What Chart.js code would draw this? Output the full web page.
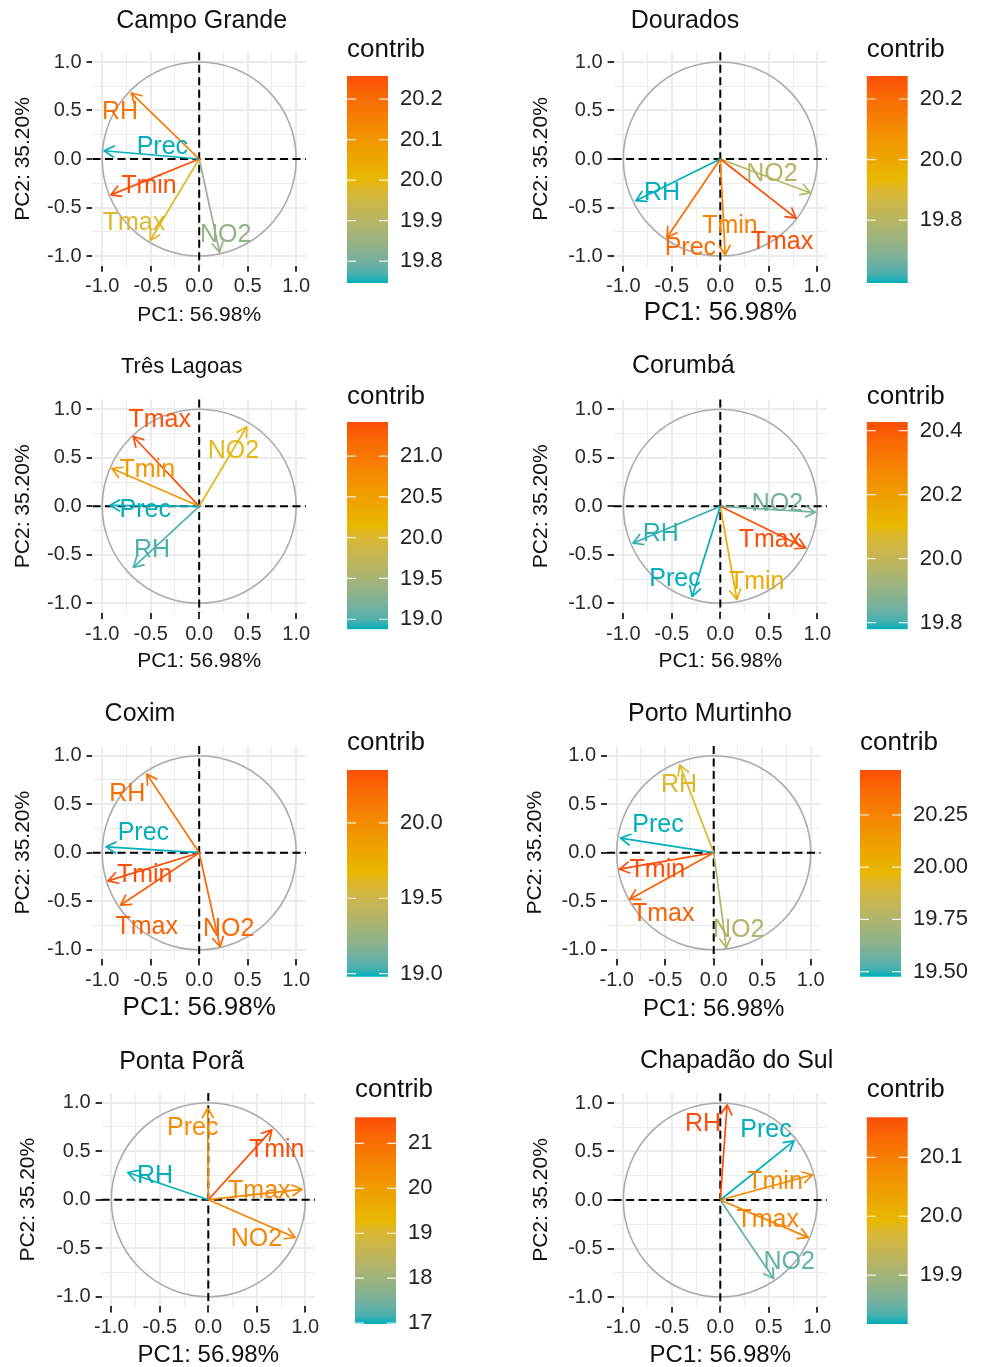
<!DOCTYPE html>
<html>
<head>
<meta charset="utf-8">
<script src="https://cdn.jsdelivr.net/npm/chart.js@4.4.1/dist/chart.umd.min.js"></script>
<style>
  html, body { margin: 0; padding: 0; background: #fff; overflow: hidden; }
  #page { position: relative; width: 981px; height: 1367px; }
  canvas { position: absolute; }
</style>
</head>
<body>
<div id="page"></div>
<script>
// ---------------------------------------------------------------- data
const VARS = ["RH", "Prec", "Tmin", "Tmax", "NO2"];

// Campo Grande
const cgPC1 = [-0.70, -0.98, -0.91, -0.505, 0.21];
const cgPC2 = [0.68, 0.085, -0.37, -0.84, -0.96];
const cgContrib = [20.18, 19.746, 20.257, 19.98, 19.84];
const cgLegend = [19.8, 19.9, 20.0, 20.1, 20.2];

// Dourados
const doPC1 = [-0.87, -0.55, 0.05, 0.78, 0.93];
const doPC2 = [-0.43, -0.81, -0.99, -0.61, -0.35];
const doContrib = [19.592, 20.2, 20.13, 20.276, 19.80];
const doLegend = [19.8, 20.0, 20.2];

// Três Lagoas
const tlPC1 = [-0.68, -0.92, -0.90, -0.68, 0.49];
const tlPC2 = [-0.63, 0.01, 0.39, 0.72, 0.82];
const tlContrib = [19.0, 18.877, 20.6, 21.417, 20.1];
const tlLegend = [19.0, 19.5, 20.0, 20.5, 21.0];

// Corumbá
const coPC1 = [-0.90, -0.29, 0.17, 0.88, 0.98];
const coPC2 = [-0.38, -0.93, -0.96, -0.43, -0.06];
const coContrib = [19.79, 19.779, 20.15, 20.427, 19.85];
const coLegend = [19.8, 20.0, 20.2, 20.4];

// Coxim
const cxPC1 = [-0.54, -0.96, -0.94, -0.81, 0.215];
const cxPC2 = [0.81, 0.06, -0.29, -0.54, -0.97];
const cxContrib = [20.18, 18.98, 20.35, 20.27, 20.22];
const cxLegend = [19.0, 19.5, 20.0];

// Porto Murtinho
const pmPC1 = [-0.35, -0.96, -0.97, -0.865, 0.13];
const pmPC2 = [0.905, 0.15, -0.17, -0.48, -0.98];
const pmContrib = [19.93, 19.476, 20.465, 20.4, 19.76];
const pmLegend = [19.50, 19.75, 20.00, 20.25];

// Ponta Porã
const ppPC1 = [-0.83, -0.006, 0.655, 0.965, 0.895];
const ppPC2 = [0.28, 0.944, 0.72, 0.107, -0.39];
const ppContrib = [16.98, 20.4, 21.58, 20.5, 20.54];
const ppLegend = [17, 18, 19, 20, 21];

// Chapadão do Sul
const csPC1 = [0.07, 0.76, 0.95, 0.905, 0.55];
const csPC2 = [0.98, 0.61, 0.26, -0.385, -0.81];
const csContrib = [20.168, 19.817, 20.08, 20.09, 19.845];
const csLegend = [19.9, 20.0, 20.1];

// ---------------------------------------------------------------- layout
const FONT = '"Liberation Sans", Arial, Helvetica, sans-serif';
Chart.defaults.font.family = FONT;

const UNIT = 97;          // px por 1.0 nos dois eixos
const LIM = 1.1;
const AXIS_TICKS = [-1, -0.75, -0.5, -0.25, 0, 0.25, 0.5, 0.75, 1];
const HEAD = 11;          // tamanho da ponta da seta
const GRAD_HEX = ["#00AFBB", "#E7B800", "#FC4E07"];

const PANELS = [
  { name: "Campo Grande", pc1: cgPC1, pc2: cgPC2, contrib: cgContrib, legend: cgLegend, dec: 1,
    col: 0, top: 0, cx: 199.2, cy: 159, title: [201.7, 21.5, 25], xTitle: [315, 21], yTitleX: 23.3,
    bar: [347, 76, 207], contribY: 50.3,
    labelAt: [[-0.816, 0.488], [-0.380, 0.127], [-0.518, -0.275], [-0.672, -0.663], [0.273, -0.784]] },
  { name: "Dourados", pc1: doPC1, pc2: doPC2, contrib: doContrib, legend: doLegend, dec: 1,
    col: 490, top: 0, cx: 720.3, cy: 159, title: [685, 21.5, 25], xTitle: [313, 26], yTitleX: 541.7,
    bar: [866.7, 76, 207], contribY: 50.3,
    labelAt: [[-0.601, -0.354], [-0.309, -0.921], [0.100, -0.687], [0.636, -0.859], [0.533, -0.155]] },
  { name: "Três Lagoas", pc1: tlPC1, pc2: tlPC2, contrib: tlContrib, legend: tlLegend, dec: 1,
    col: 0, top: 340, cx: 199.2, cy: 506.3, title: [181.7, 367.4, 22], xTitle: [661.7, 21], yTitleX: 23.3,
    bar: [347, 422, 207.3], contribY: 396.5,
    labelAt: [[-0.487, -0.450], [-0.556, -0.038], [-0.535, 0.374], [-0.407, 0.893], [0.352, 0.573]] },
  { name: "Corumbá", pc1: coPC1, pc2: coPC2, contrib: coContrib, legend: coLegend, dec: 1,
    col: 490, top: 340, cx: 720.3, cy: 506.3, title: [683.3, 366.5, 25], xTitle: [661.7, 21], yTitleX: 541.7,
    bar: [866.7, 422, 207.3], contribY: 396.5,
    labelAt: [[-0.614, -0.289], [-0.467, -0.746], [0.375, -0.784], [0.512, -0.347], [0.588, 0.027]] },
  { name: "Coxim", pc1: cxPC1, pc2: cxPC2, contrib: cxContrib, legend: cxLegend, dec: 1,
    col: 0, top: 690, cx: 199.2, cy: 852.7, title: [140, 714.6, 25], xTitle: [1008.3, 26], yTitleX: 23.3,
    bar: [347, 770, 206.7], contribY: 742.8,
    labelAt: [[-0.741, 0.608], [-0.576, 0.200], [-0.562, -0.230], [-0.541, -0.763], [0.304, -0.790]] },
  { name: "Porto Murtinho", pc1: pmPC1, pc2: pmPC2, contrib: pmContrib, legend: pmLegend, dec: 2,
    col: 490, top: 690, cx: 713.7, cy: 852.7, title: [710, 714, 25], xTitle: [1009.3, 24], yTitleX: 535,
    bar: [860, 770, 206.7], contribY: 742.8,
    labelAt: [[-0.358, 0.695], [-0.574, 0.286], [-0.581, -0.175], [-0.520, -0.632], [0.258, -0.794]] },
  { name: "Ponta Porã", pc1: ppPC1, pc2: ppPC2, contrib: ppContrib, legend: ppLegend, dec: 0,
    col: 0, top: 1030, cx: 208.3, cy: 1199.7, title: [181.7, 1062, 25], xTitle: [1355, 24], yTitleX: 28.3,
    bar: [355, 1117.3, 206.7], contribY: 1090,
    labelAt: [[-0.549, 0.247], [-0.161, 0.736], [0.705, 0.512], [0.526, 0.093], [0.496, -0.409]] },
  { name: "Chapadão do Sul", pc1: csPC1, pc2: csPC2, contrib: csContrib, legend: csLegend, dec: 1,
    col: 490, top: 1030, cx: 720.3, cy: 1200, title: [736.7, 1061.3, 25], xTitle: [1355, 24], yTitleX: 541.7,
    bar: [866.7, 1117.3, 206.7], contribY: 1090,
    labelAt: [[-0.178, 0.780], [0.471, 0.718], [0.564, 0.186], [0.488, -0.206], [0.711, -0.639]] },
];

// ---------------------------------------------------------------- rampa de cor (CIELAB, como o ggplot)
function hexToRgb(h) { return [1, 3, 5].map((i) => parseInt(h.slice(i, i + 2), 16)); }
function toLin(c) { c /= 255; return c <= 0.04045 ? c / 12.92 : Math.pow((c + 0.055) / 1.055, 2.4); }
function fromLin(c) {
  const v = c <= 0.0031308 ? 12.92 * c : 1.055 * Math.pow(c, 1 / 2.4) - 0.055;
  return Math.round(Math.max(0, Math.min(1, v)) * 255);
}
function rgbToLab([r, g, b]) {
  const R = toLin(r), G = toLin(g), B = toLin(b);
  const X = (0.4124 * R + 0.3576 * G + 0.1805 * B) / 0.95047;
  const Y = 0.2126 * R + 0.7152 * G + 0.0722 * B;
  const Z = (0.0193 * R + 0.1192 * G + 0.9505 * B) / 1.08883;
  const f = (t) => (t > 0.008856 ? Math.cbrt(t) : 7.787 * t + 16 / 116);
  return [116 * f(Y) - 16, 500 * (f(X) - f(Y)), 200 * (f(Y) - f(Z))];
}
function labToRgb([L, a, b]) {
  const fy = (L + 16) / 116, fx = fy + a / 500, fz = fy - b / 200;
  const inv = (t) => (t * t * t > 0.008856 ? t * t * t : (t - 16 / 116) / 7.787);
  const X = inv(fx) * 0.95047, Y = inv(fy), Z = inv(fz) * 1.08883;
  return [
    fromLin(3.2406 * X - 1.5372 * Y - 0.4986 * Z),
    fromLin(-0.9689 * X + 1.8758 * Y + 0.0415 * Z),
    fromLin(0.0557 * X - 0.2040 * Y + 1.0570 * Z),
  ];
}
const GRAD_LAB = GRAD_HEX.map((h) => rgbToLab(hexToRgb(h)));
function rampColor(t) {
  t = Math.max(0, Math.min(1, t));
  const s = t * (GRAD_LAB.length - 1);
  const i = Math.min(GRAD_LAB.length - 2, Math.floor(s));
  const f = s - i;
  const lab = GRAD_LAB[i].map((v, k) => v + (GRAD_LAB[i + 1][k] - v) * f);
  const [r, g, b] = labToRgb(lab);
  return `rgb(${r},${g},${b})`;
}

// ---------------------------------------------------------------- helpers
const page = document.getElementById("page");
function addCanvas(left, top, w, h) {
  const c = document.createElement("canvas");
  c.width = w; c.height = h;
  c.style.left = left + "px"; c.style.top = top + "px";
  c.style.width = w + "px"; c.style.height = h + "px";
  page.appendChild(c);
  return c;
}
const isMajor = (v) => Math.abs(v * 2 - Math.round(v * 2)) < 1e-6;

function panelPlugin(p, left, top) {
  return {
    id: "pca",
    beforeDatasetsDraw(chart) {
      const { ctx, chartArea: a, scales: { x, y } } = chart;
      const x0 = x.getPixelForValue(0), y0 = y.getPixelForValue(0);
      const r = x.getPixelForValue(1) - x0;
      ctx.save();
      ctx.strokeStyle = "#ABABAB";
      ctx.lineWidth = 1.6;
      ctx.beginPath();
      ctx.arc(x0, y0, r, 0, Math.PI * 2);
      ctx.stroke();
      ctx.strokeStyle = "#000";
      ctx.lineWidth = 2;
      ctx.setLineDash([8, 4.5]);
      ctx.beginPath();
      ctx.moveTo(a.left, y0); ctx.lineTo(a.right, y0);
      ctx.moveTo(x0, a.top); ctx.lineTo(x0, a.bottom);
      ctx.stroke();
      ctx.restore();
    },
    afterDatasetsDraw(chart) {
      const { ctx, scales: { x, y } } = chart;
      ctx.save();
      chart.data.datasets.forEach((ds, i) => {
        const [a, b] = chart.getDatasetMeta(i).data;
        const ang = Math.atan2(b.y - a.y, b.x - a.x);
        ctx.strokeStyle = ds.borderColor;
        ctx.lineWidth = 1.7;
        ctx.lineCap = "round";
        ctx.lineJoin = "round";
        ctx.beginPath();
        ctx.moveTo(b.x - HEAD * Math.cos(ang - 0.52), b.y - HEAD * Math.sin(ang - 0.52));
        ctx.lineTo(b.x, b.y);
        ctx.lineTo(b.x - HEAD * Math.cos(ang + 0.52), b.y - HEAD * Math.sin(ang + 0.52));
        ctx.stroke();
      });
      ctx.font = `25px ${FONT}`;
      ctx.textAlign = "center";
      ctx.textBaseline = "middle";
      p.labelAt.forEach(([lx, ly], i) => {
        ctx.fillStyle = chart.data.datasets[i].borderColor;
        ctx.fillText(VARS[i], x.getPixelForValue(lx), y.getPixelForValue(ly));
      });
      ctx.restore();
    },
    afterDraw(chart) {
      const { ctx } = chart;
      const [tx, ty, ts] = p.title;
      ctx.save();
      ctx.font = `${ts}px ${FONT}`;
      ctx.fillStyle = "#111";
      ctx.textAlign = "center";
      ctx.textBaseline = "middle";
      ctx.fillText(p.name, tx - left, ty - top);
      ctx.restore();
    },
  };
}

// ---------------------------------------------------------------- painel principal
function desenharPainel(p) {
  const half = LIM * UNIT;
  const plotL = p.cx - half, plotR = p.cx + half, plotT = p.cy - half, plotB = p.cy + half;
  const [xTitleY, xTitleSize] = p.xTitle;
  const xLh = xTitleSize * 1.2, yLh = 21 * 1.2;
  const left = p.col, top = p.top;
  const width = Math.ceil(plotR + 14 - left);
  const height = Math.ceil(xTitleY + xLh / 2 + 4 - top);
  const cv = addCanvas(left, top, width, height);

  const lo = Math.min(...p.contrib), hi = Math.max(...p.contrib);
  const cores = p.contrib.map((c) => rampColor((c - lo) / (hi - lo)));

  const eixo = (isX) => ({
    type: "linear", min: -LIM, max: LIM,
    afterBuildTicks: (s) => { s.ticks = AXIS_TICKS.map((v) => ({ value: v })); },
    afterFit: (s) => {
      if (isX) s.height = top + height - plotB;
      else s.width = plotL - left;
    },
    grid: {
      color: "#EBEBEB",
      lineWidth: (c) => (c.tick && isMajor(c.tick.value) ? 2 : 1),
      tickColor: (c) => (c.tick && isMajor(c.tick.value) ? "#333" : "rgba(0,0,0,0)"),
      tickLength: 6, tickWidth: 2,
    },
    border: { display: false },
    ticks: {
      autoSkip: false, maxRotation: 0, minRotation: 0,
      padding: isX ? 3 : 5, color: "#2A2A2A", font: { size: 20 },
      callback: (v) => (isMajor(v) ? Number(v).toFixed(1) : ""),
    },
    title: isX
      ? { display: true, text: "PC1: 56.98%", color: "#111", font: { size: xTitleSize },
          padding: { top: 0, bottom: top + height - xTitleY - xLh / 2 } }
      : { display: true, text: "PC2: 35.20%", color: "#111", font: { size: 21 },
          padding: { top: p.yTitleX - left - yLh / 2, bottom: 0 } },
  });

  new Chart(cv, {
    type: "scatter",
    data: {
      datasets: VARS.map((v, i) => ({
        label: v,
        data: [{ x: 0, y: 0 }, { x: p.pc1[i], y: p.pc2[i] }],
        showLine: true, borderColor: cores[i], backgroundColor: cores[i],
        borderWidth: 1.7, pointRadius: 0, pointHoverRadius: 0,
      })),
    },
    options: {
      responsive: false, animation: false, events: [], devicePixelRatio: 1,
      layout: { padding: { left: 0, top: plotT - top, right: left + width - plotR, bottom: 0 } },
      plugins: { legend: { display: false }, tooltip: { enabled: false } },
      scales: { x: eixo(true), y: eixo(false) },
    },
    plugins: [panelPlugin(p, left, top)],
  });
}

// ---------------------------------------------------------------- barra de cores
function desenharLegenda(p) {
  const [bx, by, bh] = p.bar;
  const bw = 41;
  const lo = Math.min(...p.contrib), hi = Math.max(...p.contrib);
  const lh = 26 * 1.2;
  const left = Math.floor(bx);
  const top = Math.floor(p.contribY - 4 - lh / 2);
  const width = 125;
  const height = Math.ceil(by + bh + 34 - top);   // folga para o padding do eixo
  const padTop = p.contribY - top - lh / 2;
  const padBottom = by - (top + padTop + lh);
  const cv = addCanvas(left, top, width, height);

  new Chart(cv, {
    type: "bar",
    data: {
      labels: ["contrib"],
      datasets: [{
        data: [[lo, hi]],
        borderWidth: 0, barPercentage: 1, categoryPercentage: 1,
        backgroundColor: (ctx) => {
          const a = ctx.chart.chartArea;
          if (!a) return "rgba(0,0,0,0)";
          const g = ctx.chart.ctx.createLinearGradient(0, a.bottom, 0, a.top);
          for (let i = 0; i <= 24; i++) g.addColorStop(i / 24, rampColor(i / 24));
          return g;
        },
      }],
    },
    options: {
      responsive: false, animation: false, events: [], devicePixelRatio: 1,
      layout: { padding: { left: bx - left, right: 0, top: 0, bottom: top + height - (by + bh) } },
      plugins: {
        legend: { display: false }, tooltip: { enabled: false },
        title: {
          display: true, text: "contrib", align: "start", color: "#111",
          font: { size: 26, weight: "normal" }, padding: { top: padTop, bottom: padBottom },
        },
      },
      scales: {
        x: { display: false },
        y: {
          position: "right", min: lo, max: hi,
          grid: { display: false, drawTicks: false }, border: { display: false },
          afterBuildTicks: (s) => { s.ticks = p.legend.map((v) => ({ value: v })); },
          afterFit: (s) => { s.width = width - (bx - left) - bw; },
          ticks: {
            padding: 12, color: "#222", font: { size: 22 },
            callback: (v) => Number(v).toFixed(p.dec),
          },
        },
      },
    },
    plugins: [{
      id: "marcas",
      afterDatasetsDraw(chart) {
        const { ctx, chartArea: a, scales: { y } } = chart;
        const t = 9;
        ctx.save();
        ctx.strokeStyle = "rgba(255,255,255,0.85)";
        ctx.lineWidth = 1.2;
        p.legend.forEach((v) => {
          const yy = y.getPixelForValue(v);
          ctx.beginPath();
          ctx.moveTo(a.left, yy); ctx.lineTo(a.left + t, yy);
          ctx.moveTo(a.right - t, yy); ctx.lineTo(a.right, yy);
          ctx.stroke();
        });
        ctx.restore();
      },
    }],
  });
}

PANELS.forEach((p) => {
  desenharPainel(p);
  desenharLegenda(p);
});
</script>
</body>
</html>
